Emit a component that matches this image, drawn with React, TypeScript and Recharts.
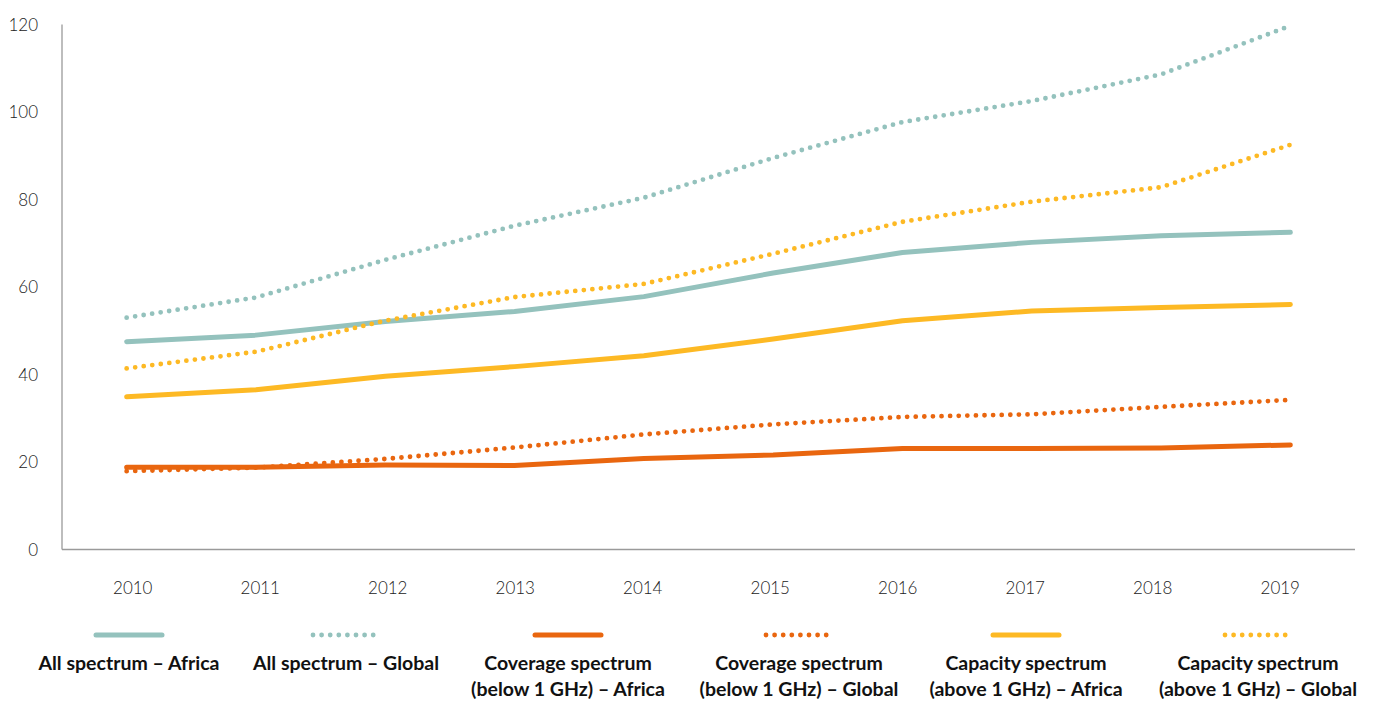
import React from 'react';
import { LineChart, Line, XAxis, YAxis, Legend, ReferenceLine } from 'recharts';

const years = ['2010', '2011', '2012', '2013', '2014', '2015', '2016', '2017', '2018', '2019'];
const allAfrica = [47.5, 49.0, 52.1, 54.4, 57.8, 63.2, 67.9, 70.2, 71.7, 72.5];
const allGlobal = [53.0, 57.6, 66.2, 74.0, 80.4, 89.5, 97.7, 102.5, 108.6, 119.7];
const covAfrica = [18.8, 18.8, 19.3, 19.2, 20.8, 21.6, 23.1, 23.1, 23.2, 23.9];
const covGlobal = [17.9, 18.7, 20.7, 23.3, 26.3, 28.6, 30.3, 30.9, 32.6, 34.2];
const capAfrica = [34.9, 36.5, 39.6, 41.8, 44.3, 48.1, 52.3, 54.5, 55.3, 56.0];
const capGlobal = [41.4, 45.2, 52.3, 57.7, 60.7, 67.6, 74.9, 79.5, 82.8, 92.5];
const yTicks = [0, 20, 40, 60, 80, 100, 120];

const TEAL = '#94C2BD';
const ORANGE = '#E9660F';
const YELLOW = '#FDB924';

const series = [
  { key: 'allAfrica', name: 'All spectrum – Africa', color: TEAL, dotted: false },
  { key: 'allGlobal', name: 'All spectrum – Global', color: TEAL, dotted: true },
  { key: 'covAfrica', name: 'Coverage spectrum\n(below 1 GHz) – Africa', color: ORANGE, dotted: false },
  { key: 'covGlobal', name: 'Coverage spectrum\n(below 1 GHz) – Global', color: ORANGE, dotted: true },
  { key: 'capAfrica', name: 'Capacity spectrum\n(above 1 GHz) – Africa', color: YELLOW, dotted: false },
  { key: 'capGlobal', name: 'Capacity spectrum\n(above 1 GHz) – Global', color: YELLOW, dotted: true },
];

const data = years.map((year, i) => ({
  year,
  allAfrica: allAfrica[i],
  allGlobal: allGlobal[i],
  covAfrica: covAfrica[i],
  covGlobal: covGlobal[i],
  capAfrica: capAfrica[i],
  capGlobal: capGlobal[i],
}));

// legend item centres (layout)
const legendCenters = [121, 338, 560, 791, 1018, 1250];
const DOT_DASH = '0 8.6';

const LegendContent = (props: any) => {
  const raw = props.payload || [];
  const order = series.map((s) => s.name);
  const payload = [...raw].sort((a: any, b: any) => order.indexOf(a.value) - order.indexOf(b.value));
  return (
    <div style={{ position: 'relative', width: 1367, height: 80 }}>
      {payload.map((entry: any, i: number) => {
        const dotted = !!(entry.payload && entry.payload.strokeDasharray);
        return (
          <div
            key={entry.value}
            style={{
              position: 'absolute',
              left: legendCenters[i] - 130,
              top: 0,
              width: 260,
              textAlign: 'center',
            }}
          >
            <svg width={74} height={8} style={{ display: 'block', margin: '0 auto' }}>
              <line
                x1={4}
                x2={dotted ? 66 : 70}
                y1={4}
                y2={4}
                stroke={entry.color}
                strokeWidth={dotted ? 4.8 : 5}
                strokeLinecap="round"
                strokeDasharray={dotted ? DOT_DASH : undefined}
              />
            </svg>
            <div
              style={{
                marginTop: 11,
                fontFamily: 'Lato, sans-serif',
                fontWeight: 700,
                fontSize: 19.5,
                lineHeight: '26px',
                color: '#111',
                whiteSpace: 'pre-line',
              }}
            >
              {entry.value}
            </div>
          </div>
        );
      })}
    </div>
  );
};

export default function App() {
  const tickStyle = { fontFamily: 'Lato, sans-serif', fontWeight: 300, fontSize: 17, fill: '#222' };
  return (
    <LineChart
      width={1367}
      height={694}
      data={data}
      margin={{ top: 16.5, right: 20, left: 0, bottom: 102.5 }}
    >
      <XAxis
        xAxisId="main"
        dataKey="year"
        scale="band"
        height={0}
        tick={false}
        tickLine={false}
        axisLine={false}
      />
      <XAxis
        xAxisId="labels"
        dataKey="year"
        scale="band"
        height={50}
        padding={{ left: 7, right: 11 }}
        axisLine={false}
        tickLine={false}
        tickSize={0}
        tickMargin={32}
        tick={tickStyle}
        interval={0}
      />
      <YAxis
        domain={[0, 120]}
        ticks={yTicks}
        width={54}
        tickLine={false}
        tickSize={0}
        tickMargin={24}
        tick={tickStyle}
        axisLine={{ stroke: '#9a9a9a', strokeWidth: 1.3 }}
      />
      <ReferenceLine xAxisId="main" y={0} stroke="#9a9a9a" strokeWidth={1.3} />
      <Legend
        layout="horizontal"
        verticalAlign="middle"
        align="center"
        wrapperStyle={{ top: 623, left: 0, width: 1367 }}
        content={<LegendContent />}
      />
      {series.map((s) => (
        <Line
          key={s.key}
          xAxisId="main"
          dataKey={s.key}
          name={s.name}
          type="linear"
          stroke={s.color}
          strokeWidth={s.dotted ? 4.8 : 5}
          strokeDasharray={s.dotted ? DOT_DASH : undefined}
          strokeLinecap="round"
          strokeLinejoin="round"
          dot={false}
          activeDot={false}
          isAnimationActive={false}
        />
      ))}
    </LineChart>
  );
}
